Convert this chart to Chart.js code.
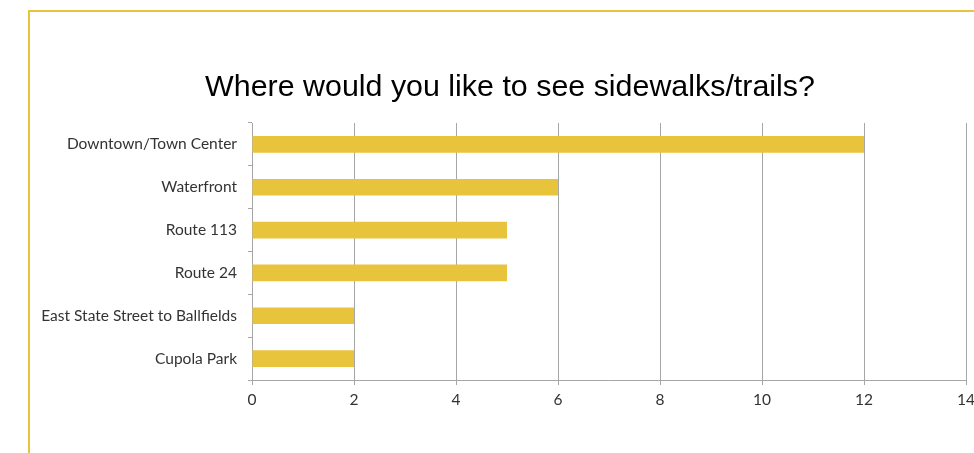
<!DOCTYPE html>
<html>
<head>
<meta charset="utf-8">
<script src="https://cdn.jsdelivr.net/npm/chart.js@4"></script>
<style>
  html, body { margin: 0; padding: 0; background: #fff; }
  #wrap { position: relative; width: 974px; height: 453px; }
  #frame {
    position: absolute; left: 28px; top: 10px; right: 0; bottom: 0;
    border-top: 2px solid #E8C43C; border-left: 2px solid #E8C43C;
  }
  canvas { position: absolute; left: 0; top: 0; }
</style>
</head>
<body>
<div id="wrap">
  <div id="frame"></div>
  <canvas id="barChart" width="974" height="453"></canvas>
</div>
<script>
const categories = [
  "Downtown/Town Center",
  "Waterfront",
  "Route 113",
  "Route 24",
  "East State Street to Ballfields",
  "Cupola Park"
];
const responses = [12, 6, 5, 5, 2, 2];
const xTicks = [0, 2, 4, 6, 8, 10, 12, 14];
const chartTitle = "Where would you like to see sidewalks/trails?";

// title is centred over the plot, not the canvas, so draw it ourselves
const titlePlugin = {
  id: "centredTitle",
  afterDraw(chart) {
    const c = chart.ctx;
    c.save();
    c.font = "30.4px 'Liberation Sans'";
    c.fillStyle = "#000";
    c.textAlign = "center";
    c.textBaseline = "alphabetic";
    c.fillText(chartTitle, 510, 96);
    c.restore();
  },
};

const ctx = document.getElementById("barChart").getContext("2d");
new Chart(ctx, {
  type: "bar",
  data: {
    labels: categories,
    datasets: [
      {
        data: responses,
        backgroundColor: "#E8C43C",
        borderWidth: 0,
        categoryPercentage: 1,
        barPercentage: 0.39,
      },
    ],
  },
  plugins: [titlePlugin],
  options: {
    indexAxis: "y",
    responsive: false,
    animation: false,
    layout: { padding: { left: 20, right: 0, top: 123, bottom: 0 } },
    plugins: {
      legend: { display: false },
      tooltip: { enabled: false },
      title: { display: false },
    },
    scales: {
      x: {
        min: xTicks[0],
        max: xTicks[xTicks.length - 1],
        afterFit: (scale) => {
          scale.height = 73;
          scale.paddingRight = 8;
          scale.paddingLeft = 0;
        },
        afterBuildTicks: (scale) => { scale.ticks = xTicks.map((v) => ({ value: v })); },
        grid: { color: "#A6A6A6", lineWidth: 1, tickLength: 5, drawTicks: true },
        border: { color: "#A6A6A6" },
        ticks: {
          color: "#333",
          padding: 6,
          font: { family: "Lato", size: 15.5 },
        },
      },
      y: {
        afterFit: (scale) => {
          scale.width = 232;
          scale.paddingTop = 0;
          scale.paddingBottom = 0;
        },
        grid: {
          color: "#A6A6A6",
          drawOnChartArea: false,
          tickLength: 4,
        },
        border: { color: "#A6A6A6" },
        ticks: {
          color: "#333",
          padding: 11,
          font: { family: "Lato", size: 15.5 },
        },
      },
    },
  },
});
</script>
</body>
</html>
